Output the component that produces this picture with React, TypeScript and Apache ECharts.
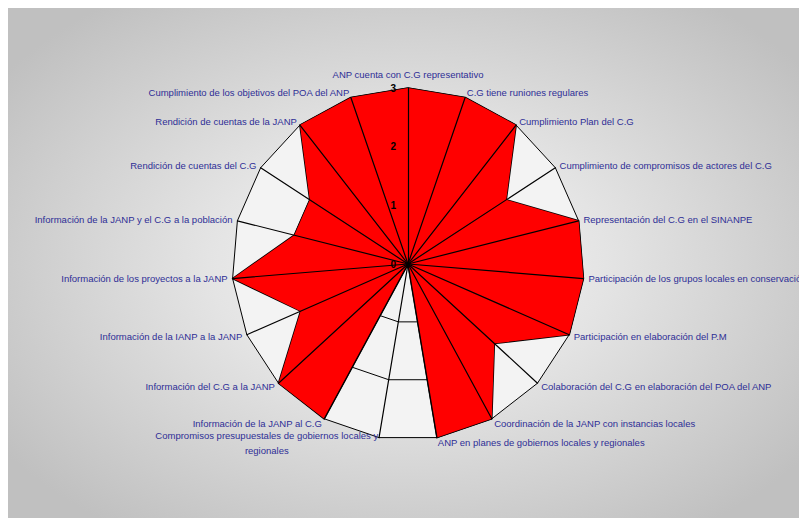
import React, { useEffect, useRef } from "react";
import * as echarts from "echarts";

// Indicators in clockwise order starting at the top
const categories: string[] = [
  "ANP cuenta con C.G representativo",
  "C.G tiene runiones regulares",
  "Cumplimiento Plan del C.G",
  "Cumplimiento de compromisos de actores del C.G",
  "Representación del C.G en el SINANPE",
  "Participación de los grupos locales en conservación",
  "Participación en elaboración del P.M",
  "Colaboración del C.G en elaboración del POA del ANP",
  "Coordinación de la JANP con instancias locales",
  "ANP en planes de gobiernos locales y regionales",
  "Compromisos presupuestales de gobiernos locales y regionales",
  "Información de la JANP al C.G",
  "Información del C.G a la JANP",
  "Información de la IANP a la JANP",
  "Información de los proyectos a la JANP",
  "Información de la JANP y el C.G a la población",
  "Rendición de cuentas del C.G",
  "Rendición de cuentas de la JANP",
  "Cumplimiento de los objetivos del POA del ANP",
];

const values: number[] = [3, 3, 3, 2, 3, 3, 3, 2, 3, 3, 0, 3, 3, 2, 3, 2, 2, 3, 3];

const scaleMin = 0;
const scaleMax = 3;

export default function App() {
  const ref = useRef<HTMLDivElement>(null);

  useEffect(() => {
    if (!ref.current) return;
    const chart = echarts.init(ref.current, undefined, { renderer: "svg" });

    // ECharts radar runs counter-clockwise; reorder so that it reads clockwise
    const order = [0, ...Array.from({ length: categories.length - 1 }, (_, i) => categories.length - 1 - i)];
    const indicator = order.map((idx) => {
      const base: any = { name: categories[idx], min: scaleMin, max: scaleMax };
      if (idx === 0) base.nameGap = 9;
      return base;
    });
    const topIndicator = order.map((idx) => {
      const base: any = { name: categories[idx], min: scaleMin, max: scaleMax };
      if (idx === 0) {
        base.axisLabel = {
          show: true,
          color: "#000",
          fontWeight: "bold",
          fontSize: 10,
          fontFamily: "Liberation Sans, Arial, sans-serif",
          margin: 12,
        };
      }
      return base;
    });
    const orderedValues = order.map((idx) => values[idx]);

    const nameStyle = {
      color: "#2e2e96",
      fontSize: 9.5,
      fontFamily: "Liberation Sans, Arial, sans-serif",
    };

    chart.setOption({
      animation: false,
      backgroundColor: "transparent",
      radar: [
        {
          center: [400, 256],
          radius: 176,
          startAngle: 90,
          splitNumber: 3,
          shape: "polygon",
          indicator,
          nameGap: 5,
          axisName: {
            ...nameStyle,
            formatter: (name: string) =>
              name.startsWith("Compromisos")
                ? "{a|Compromisos presupuestales de gobiernos locales y}\n{b|regionales}"
                : name,
            rich: {
              a: { ...nameStyle, lineHeight: 15 },
              b: { ...nameStyle, lineHeight: 15, align: "center" },
            },
          },
          axisLine: { show: false },
          axisTick: { show: false },
          axisLabel: { show: false },
          splitLine: { show: true, lineStyle: { color: "#000", width: 1 } },
          splitArea: { show: true, areaStyle: { color: ["#f3f3f3"] } },
          z: 1,
        },
        {
          center: [400, 256],
          radius: 176,
          startAngle: 90,
          splitNumber: 3,
          shape: "polygon",
          indicator: topIndicator,
          axisName: { show: false },
          axisLine: { show: true, lineStyle: { color: "#000", width: 1.2 } },
          axisTick: { show: false },
          axisLabel: { show: false },
          splitLine: { show: false },
          splitArea: { show: false },
          z: 10,
        },
      ],
      series: [
        {
          type: "radar",
          radarIndex: 0,
          z: 5,
          symbol: "none",
          lineStyle: { color: "#000", width: 1.6 },
          areaStyle: { color: "#ff0000", opacity: 1 },
          data: [{ value: orderedValues, name: "Puntaje" }],
        },
      ],
    });

    return () => chart.dispose();
  }, []);

  return (
    <div
      ref={ref}
      style={{
        width: 799,
        height: 510,
        background:
          "radial-gradient(ellipse 62% 64% at 50% 50%, #f7f7f7 0%, #e4e4e4 40%, #c0c0c0 100%)",
      }}
    />
  );
}
